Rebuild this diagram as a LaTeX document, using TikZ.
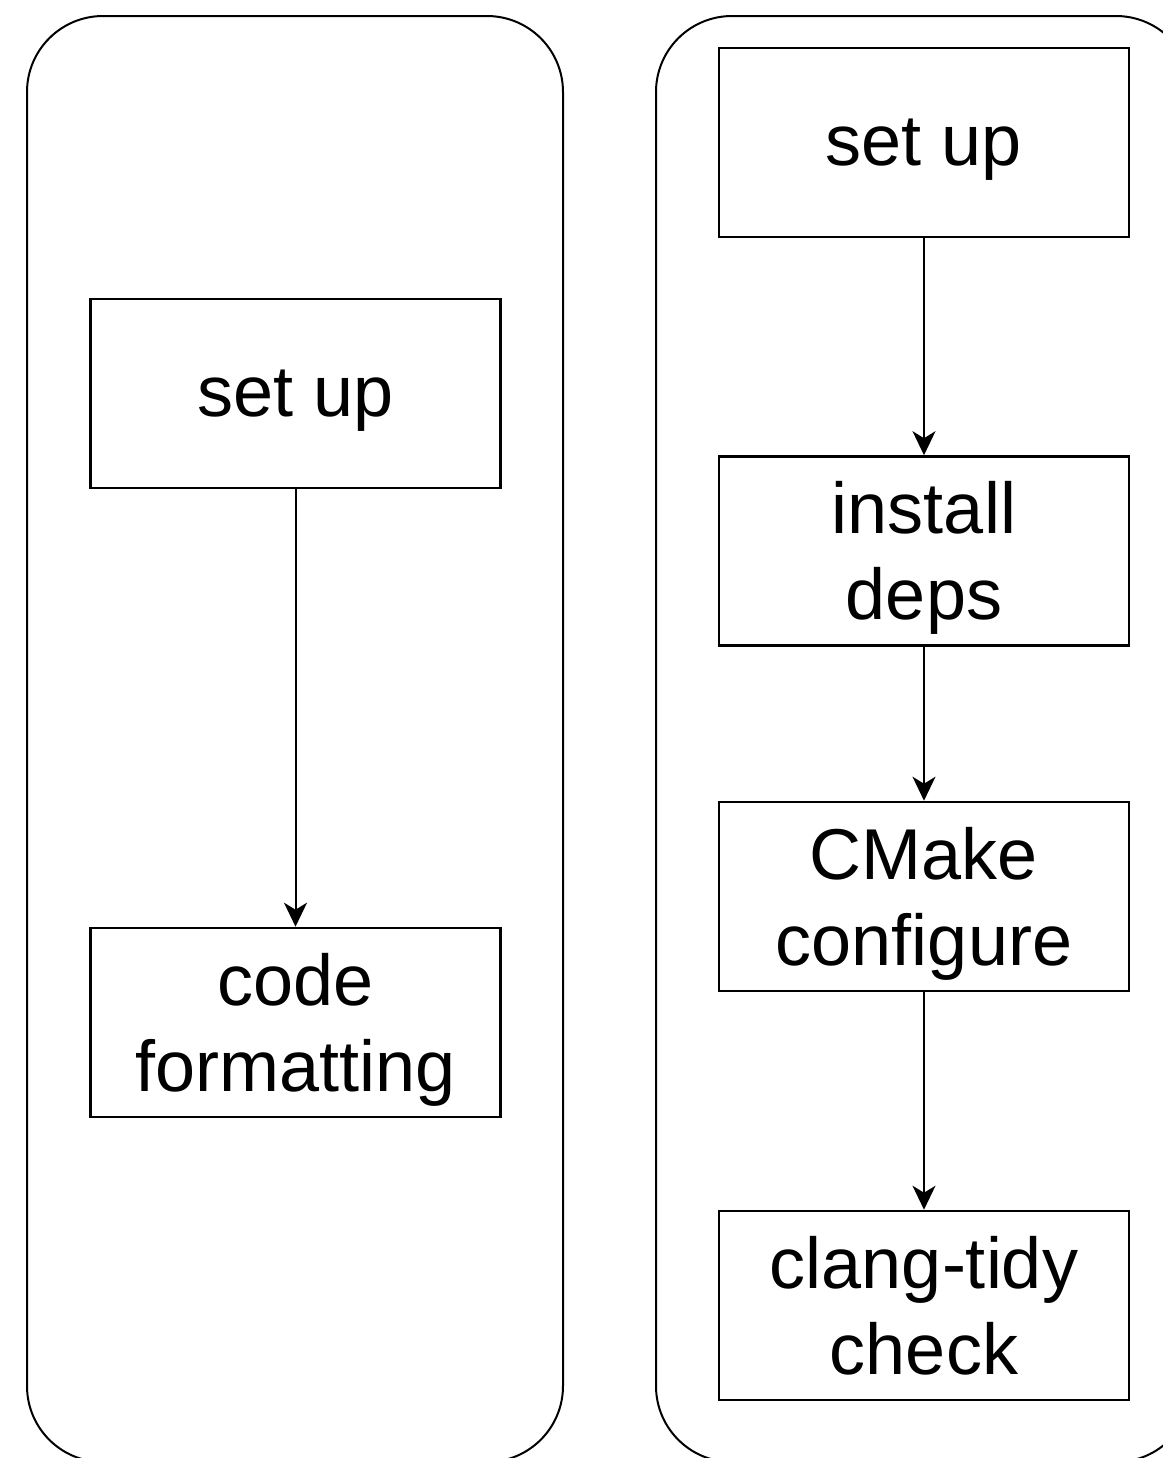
\documentclass[tikz,border=0pt]{standalone}
\usepackage{fontspec}
\setmainfont{Liberation Sans}
\usetikzlibrary{arrows.meta}
\begin{document}
\begin{tikzpicture}[x=0.5pt,y=-0.5pt,
  lane/.style={draw, line width=1pt, rounded corners=38pt},
  stepbox/.style={draw, line width=1.3pt, minimum width=205pt, minimum height=94.5pt,
    inner sep=0pt},
  steptext/.style={inner sep=0pt, align=center, yshift=-3.5pt, font=\fontsize{36}{43}\selectfont},
  flow/.style={-{Stealth[length=12pt,width=11.5pt,inset=3.5pt]}, line width=1pt}]
\useasboundingbox (0,0) rectangle (1163,1458);
\begin{scope}
\clip (0,0) rectangle (1163,1458);
\draw[lane] (27,16) rectangle (563,1462);
\draw[lane] (656,16) rectangle (1192,1462);
\end{scope}
% left lane
\node[stepbox, label={[steptext]center:set up}] (lsetup) at (295.5,393.5) {};
\node[stepbox, label={[steptext]center:code\\formatting}] (lfmt) at (295.5,1022.5) {};
% right lane
\node[stepbox, label={[steptext]center:set up}] (rsetup) at (924,142.5) {};
\node[stepbox, label={[steptext]center:install\\deps}] (rdeps) at (924,551) {};
\node[stepbox, label={[steptext]center:CMake\\configure}] (rcmake) at (924,896.5) {};
\node[stepbox, label={[steptext]center:clang-tidy\\check\vphantom{g}}] (rtidy) at (924,1305.5) {};
\draw[flow] (lsetup) -- (lfmt);
\draw[flow] (rsetup) -- (rdeps);
\draw[flow] (rdeps) -- (rcmake);
\draw[flow] (rcmake) -- (rtidy);
\end{tikzpicture}
\end{document}
